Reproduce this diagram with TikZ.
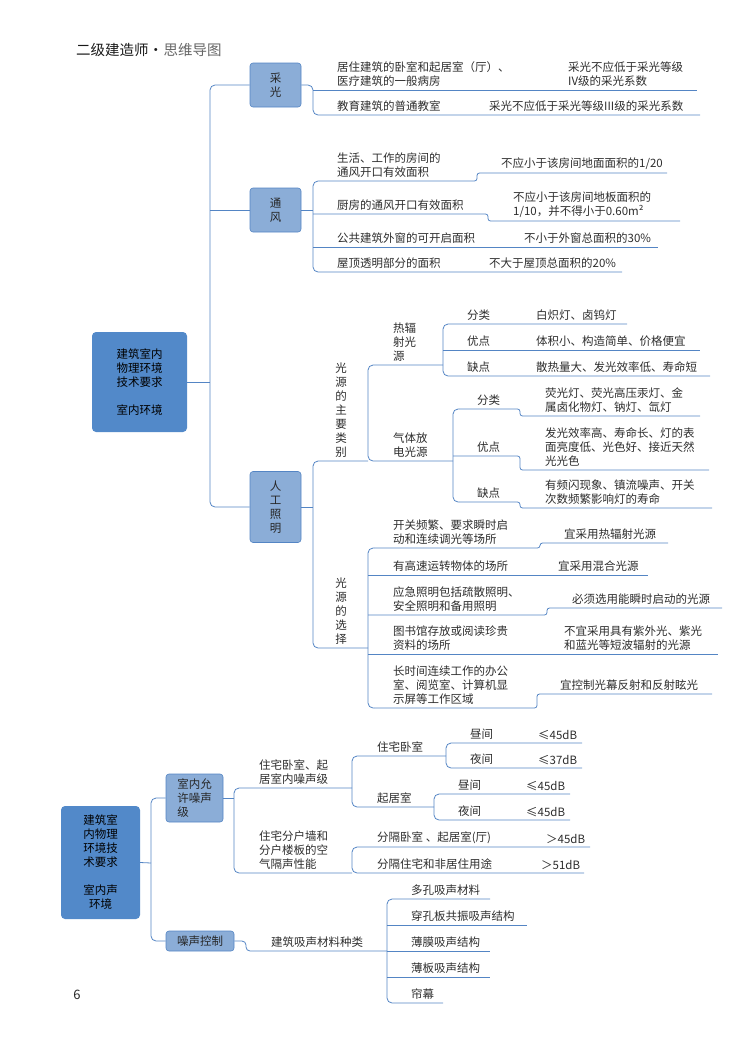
\documentclass[tikz,border=0pt]{standalone}
\usepackage{fontspec}
\setmainfont{Noto Sans CJK SC}
\usetikzlibrary{positioning}
\definecolor{wireblue}{RGB}{84,133,196}
\definecolor{rootblue}{RGB}{82,137,201}
\definecolor{subblue}{RGB}{139,173,215}
\definecolor{ink}{RGB}{45,45,45}
\tikzset{
  wire/.style={draw=wireblue, line width=0.8pt, rounded corners=5pt},
  kink/.style={draw=wireblue, line width=0.8pt, rounded corners=2.5pt},
  rootbox/.style={fill=rootblue, rounded corners=4pt, align=center, text=black},
  subbox/.style={draw=wireblue, line width=0.6pt, fill=subblue, rounded corners=3pt, align=center, text=black!85},
  leaf/.style={anchor=south west, inner sep=1pt, yshift=2pt, align=left, text=ink},
  vleaf/.style={anchor=south, inner sep=1pt, yshift=2pt, align=center, text=ink}
}

\begin{document}
\begin{tikzpicture}[x=1pt, y=-1pt, font=\fontsize{11.5}{14}\selectfont]
\useasboundingbox (0,0) rectangle (743,1052);

\node[anchor=west, inner sep=0, font=\fontsize{14.5}{17}\selectfont, text=black!90] (title) at (76,50) {二级建造师·};
\node[right=0pt of title, inner sep=0, font=\fontsize{14.5}{17}\selectfont, text=black!60] (subtitle) {思维导图};
\node[font=\fontsize{13}{15}\selectfont, text=black!85] (pageno) at (77,995) {6};

% indoor environment
\node[rootbox, minimum width=95pt, minimum height=100pt] (indoor) at (139.5,382) {建筑室内\\物理环境\\技术要求\\[14pt]室内环境};
\node[subbox, minimum width=51pt, minimum height=44pt] (caiguang) at (275.5,85) {采\\光};
\node[subbox, minimum width=51pt, minimum height=44pt] (tongfeng) at (275.5,210) {通\\风};
\node[subbox, minimum width=51pt, minimum height=71pt] (zhaoming) at (275.5,507) {人\\工\\照\\明};
\draw[wire] (indoor.east) -- (210,382);
\draw[wire] (caiguang.west) -- (210,85) -- (210,507) -- (zhaoming.west);
\draw[wire] (210,210) -- (tongfeng.west);

% daylight
\node[leaf] (cg1) at (336,90) {居住建筑的卧室和起居室（厅）、\\医疗建筑的一般病房};
\node[leaf] (cg1v) at (567,90) {采光不应低于采光等级\\IV级的采光系数};
\node[leaf] (cg2) at (336,115) {教育建筑的普通教室};
\node[leaf] (cg2v) at (488,115) {采光不应低于采光等级III级的采光系数};
\coordinate (cg1e) at (697,90);
\coordinate (cg2e) at (700,115);
\draw[wire] (caiguang.east) -- (313,85) -- (313,115) -- (cg2e);
\draw[wire] (313,90) -- (cg1e);

% ventilation
\node[leaf] (tf1) at (336,181) {生活、工作的房间的\\通风开口有效面积};
\node[leaf] (tf1v) at (500,173) {不应小于该房间地面面积的1/20};
\node[leaf] (tf2) at (336,214) {厨房的通风开口有效面积};
\node[leaf] (tf2v) at (512,221) {不应小于该房间地板面积的\\1/10，并不得小于0.60m²};
\node[leaf] (tf3) at (336,247) {公共建筑外窗的可开启面积};
\node[leaf] (tf3v) at (523,247) {不小于外窗总面积的30\%};
\node[leaf] (tf4) at (336,272) {屋顶透明部分的面积};
\node[leaf] (tf4v) at (488,272) {不大于屋顶总面积的20\%};
\coordinate (tf1e) at (667,173);
\coordinate (tf2e) at (680,221);
\coordinate (tf3e) at (658,247);
\coordinate (tf4e) at (622,272);
\draw[wire] (tongfeng.east) -- (313,210);
\draw[wire] (319,181) -- (313,181) -- (313,272) -- (tf4e);
\draw[kink] (319,181) -- (477,181) -- (477,173) -- (tf1e);
\draw[kink] (313,214) -- (488,214) -- (488,221) -- (tf2e);
\draw[wire] (313,247) -- (tf3e);

% artificial lighting
\node[vleaf] (gy) at (341,461) {光\\源\\的\\主\\要\\类\\别};
\node[vleaf] (xz) at (341,648) {光\\源\\的\\选\\择};
\coordinate (gyj) at (368,461);
\coordinate (xzj) at (368,648);
\draw[wire] (zhaoming.east) -- (313,507);
\draw[wire] (gyj) -- (313,461) -- (313,648) -- (xzj);

\node[leaf] (rf) at (392,365) {热辐\\射光\\源};
\node[leaf] (qt) at (392,461) {气体放\\电光源};
\coordinate (rfj) at (443,365);
\coordinate (qtj) at (453,461);
\draw[wire] (rfj) -- (368,365) -- (368,461) -- (qtj);

\node[leaf] (rf1) at (466,324) {分类};
\node[leaf] (rf1v) at (535,324) {白炽灯、卤钨灯};
\node[leaf] (rf2) at (466,350) {优点};
\node[leaf] (rf2v) at (535,350) {体积小、构造简单、价格便宜};
\node[leaf] (rf3) at (466,376) {缺点};
\node[leaf] (rf3v) at (535,376) {散热量大、发光效率低、寿命短};
\coordinate (rf1e) at (627,324);
\coordinate (rf2e) at (700,350);
\coordinate (rf3e) at (710,376);
\draw[wire] (rf1e) -- (443,324) -- (443,376) -- (rf3e);
\draw[wire] (443,350) -- (rf2e);

\node[leaf] (qt1) at (476,409) {分类};
\node[leaf] (qt1v) at (544,416) {荧光灯、荧光高压汞灯、金\\属卤化物灯、钠灯、氙灯};
\node[leaf] (qt2) at (476,456) {优点};
\node[leaf] (qt2v) at (544,470) {发光效率高、寿命长、灯的表\\面亮度低、光色好、接近天然\\光光色};
\node[leaf] (qt3) at (476,502) {缺点};
\node[leaf] (qt3v) at (544,508) {有频闪现象、镇流噪声、开关\\次数频繁影响灯的寿命};
\coordinate (qt1e) at (700,416);
\coordinate (qt2e) at (709,470);
\coordinate (qt3e) at (712,508);
\draw[wire] (459,409) -- (453,409) -- (453,502) -- (459,502);
\draw[kink] (459,409) -- (520,409) -- (520,416) -- (qt1e);
\draw[kink] (453,456) -- (520,456) -- (520,470) -- (qt2e);
\draw[kink] (459,502) -- (520,502) -- (520,508) -- (qt3e);

\node[leaf] (xz1) at (392,548) {开关频繁、要求瞬时启\\动和连续调光等场所};
\node[leaf] (xz1v) at (563,543) {宜采用热辐射光源};
\node[leaf] (xz2) at (392,575) {有高速运转物体的场所};
\node[leaf] (xz2v) at (557,575) {宜采用混合光源};
\node[leaf] (xz3) at (392,615) {应急照明包括疏散照明、\\安全照明和备用照明};
\node[leaf] (xz3v) at (571,608) {必须选用能瞬时启动的光源};
\node[leaf] (xz4) at (392,654) {图书馆存放或阅读珍贵\\资料的场所};
\node[leaf] (xz4v) at (563,654) {不宜采用具有紫外光、紫光\\和蓝光等短波辐射的光源};
\node[leaf] (xz5) at (392,708) {长时间连续工作的办公\\室、阅览室、计算机显\\示屏等工作区域};
\node[leaf] (xz5v) at (559,694) {宜控制光幕反射和反射眩光};
\coordinate (xz1e) at (668,543);
\coordinate (xz2e) at (648,575);
\coordinate (xz3e) at (722,608);
\coordinate (xz4e) at (718,654);
\coordinate (xz5e) at (712,694);
\draw[wire] (374,548) -- (368,548) -- (368,708) -- (374,708);
\draw[kink] (374,548) -- (540,548) -- (540,543) -- (xz1e);
\draw[wire] (368,575) -- (xz2e);
\draw[kink] (368,615) -- (547,615) -- (547,608) -- (xz3e);
\draw[wire] (368,654) -- (xz4e);
\draw[kink] (374,708) -- (537,708) -- (537,694) -- (xz5e);

% sound environment
\node[rootbox, minimum width=79pt, minimum height=113pt] (sound) at (100.5,862.5) {建筑室\\内物理\\环境技\\术要求\\[14pt]室内声\\环境};
\node[subbox, minimum width=57pt, minimum height=48pt, align=left] (yxzs) at (194.5,798) {室内允\\许噪声\\级};
\node[subbox, minimum width=68pt, minimum height=20pt, inner sep=0pt] (zskz) at (200,941) {噪声控制};
\draw[wire] (sound.east) -- (151,863);
\draw[wire] (yxzs.west) -- (151,798) -- (151,941) -- (zskz.west);

\node[leaf] (zs1) at (258,788) {住宅卧室、起\\居室内噪声级};
\node[leaf] (zs2) at (258,873) {住宅分户墙和\\分户楼板的空\\气隔声性能};
\coordinate (zs1j) at (352,788);
\coordinate (zs2j) at (352,873);
\draw[wire] (yxzs.east) -- (234,798);
\draw[wire] (zs1j) -- (234,788) -- (234,873) -- (zs2j);

\node[leaf] (ws) at (376,756) {住宅卧室};
\node[leaf] (qj) at (376,807) {起居室};
\coordinate (wsj) at (446,756);
\coordinate (qjj) at (434,807);
\draw[wire] (wsj) -- (352,756) -- (352,807) -- (qjj);

\node[leaf] (ws1) at (469,743) {昼间};
\node[leaf] (ws1v) at (537,743) {≤45dB};
\node[leaf] (ws2) at (469,768) {夜间};
\node[leaf] (ws2v) at (537,768) {≤37dB};
\coordinate (ws1e) at (582,743);
\coordinate (ws2e) at (582,768);
\draw[wire] (ws1e) -- (446,743) -- (446,768) -- (ws2e);

\node[leaf] (qj1) at (457,794) {昼间};
\node[leaf] (qj1v) at (525,794) {≤45dB};
\node[leaf] (qj2) at (457,820) {夜间};
\node[leaf] (qj2v) at (525,820) {≤45dB};
\coordinate (qj1e) at (570,794);
\coordinate (qj2e) at (570,820);
\draw[wire] (qj1e) -- (434,794) -- (434,820) -- (qj2e);

\node[leaf] (gs1) at (376,847) {分隔卧室 、起居室(厅)};
\node[leaf] (gs1v) at (545,847) {＞45dB};
\node[leaf] (gs2) at (376,873) {分隔住宅和非居住用途};
\node[leaf] (gs2v) at (540,873) {＞51dB};
\coordinate (gs1e) at (590,847);
\coordinate (gs2e) at (584,873);
\draw[wire] (gs1e) -- (352,847) -- (352,873) -- (gs2e);

\node[leaf] (xs) at (270,951) {建筑吸声材料种类};
\coordinate (xsj) at (387,951);
\draw[wire, rounded corners=4pt] (zskz.east) -- (246,941) -- (246,951) -- (xsj);

\node[leaf] (xs1) at (410,899) {多孔吸声材料};
\node[leaf] (xs2) at (410,925) {穿孔板共振吸声结构};
\node[leaf] (xs3) at (410,951) {薄膜吸声结构};
\node[leaf] (xs4) at (410,977) {薄板吸声结构};
\node[leaf] (xs5) at (410,1003) {帘幕};
\coordinate (xs1e) at (490,899);
\coordinate (xs2e) at (527,925);
\coordinate (xs3e) at (490,951);
\coordinate (xs4e) at (490,977);
\coordinate (xs5e) at (443,1003);
\draw[wire] (xs1e) -- (387,899) -- (387,1003) -- (xs5e);
\draw[wire] (387,925) -- (xs2e);
\draw[wire] (387,951) -- (xs3e);
\draw[wire] (387,977) -- (xs4e);
\end{tikzpicture}
\end{document}
